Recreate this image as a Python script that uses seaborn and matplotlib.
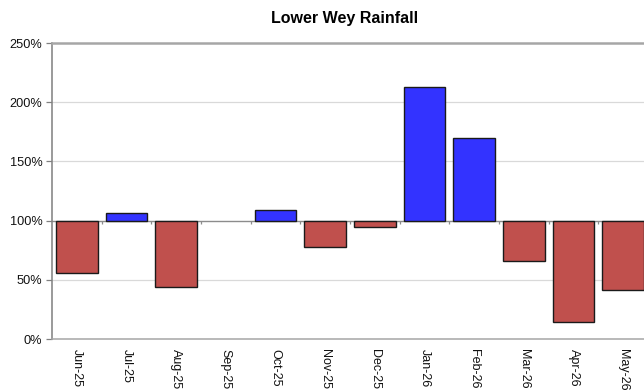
import numpy as np
import pandas as pd
import matplotlib
matplotlib.use("Agg")
import matplotlib.pyplot as plt
from matplotlib.ticker import FuncFormatter
import seaborn as sns

# Monthly rainfall as a percentage of the long-term average
months = ["Jun-25", "Jul-25", "Aug-25", "Sep-25", "Oct-25", "Nov-25",
          "Dec-25", "Jan-26", "Feb-26", "Mar-26", "Apr-26", "May-26"]
rainfall_pct = [56, 106, 44, 100, 109, 78, 95, 213, 170, 66, 14, 41]
yticks = [0, 50, 100, 150, 200, 250]

BASE = 100
df = pd.DataFrame({
    "month": months,
    "pct": rainfall_pct,
})
df["diff"] = df["pct"] - BASE
df["side"] = np.where(df["diff"] >= 0, "above", "below")

sns.set_theme(style="white")
plt.rcParams["font.family"] = ["Liberation Sans", "DejaVu Sans"]

fig = plt.figure(figsize=(6.44, 3.91), dpi=100)
ax = fig.add_axes([52 / 644, 1 - 339 / 391, 596 / 644, (339 - 43) / 391])

# Bars hang from the 100% line: above average in blue, below in red
sns.barplot(data=df, x="month", y="diff", hue="side", bottom=BASE,
            palette={"above": "#3333FF", "below": "#C0504D"}, saturation=1,
            width=0.84, edgecolor="#1a1a1a", linewidth=1.0,
            legend=False, ax=ax, zorder=3)

# A month exactly on average has no visible bar
for patch in ax.patches:
    if abs(patch.get_height()) < 1e-9:
        patch.set_visible(False)

ax.set_ylim(0, 250)
ax.set_xlim(-0.5, len(months) - 0.5)
ax.set_yticks(yticks)
ax.yaxis.set_major_formatter(FuncFormatter(lambda v, _: f"{v:.0f}%"))

# Light horizontal gridlines
for v in yticks[1:-1]:
    if v != BASE:
        ax.axhline(v, color="#d9d9d9", linewidth=0.9, zorder=1)

# Category axis crossing at 100%, with ticks between months
ax.axhline(BASE, color="#8c8c8c", linewidth=1.0, zorder=2)
ax.vlines(np.arange(len(months) - 1) + 0.5, BASE - 2.5, BASE,
          color="#8c8c8c", linewidth=0.9, zorder=2)

ax.set_xlabel("")
ax.set_ylabel("")
ax.tick_params(axis="x", length=0, pad=7, labelsize=9, colors="#000000")
ax.tick_params(axis="y", left=True, length=4, width=0.9, color="#808080",
               pad=3, labelsize=9.2, colors="#000000")
for lbl in ax.get_xticklabels():
    lbl.set_rotation(270)
    lbl.set_ha("center")
    lbl.set_va("top")
    lbl.set_color("#111111")
for lbl in ax.get_yticklabels():
    lbl.set_color("#111111")

for side, spine in ax.spines.items():
    spine.set_visible(True)
ax.spines["left"].set_color("#7f7f7f")
ax.spines["left"].set_linewidth(1.1)
ax.spines["bottom"].set_color("#a6a6a6")
ax.spines["bottom"].set_linewidth(1.1)
ax.spines["top"].set_color("#a6a6a6")
ax.spines["top"].set_linewidth(1.8)
ax.spines["right"].set_visible(False)

fig.text(345 / 644, 1 - 18 / 391, "Lower Wey Rainfall", ha="center", va="center",
         fontsize=11.5, fontweight="bold", color="#000000")

fig.savefig("out.png", dpi=100)
